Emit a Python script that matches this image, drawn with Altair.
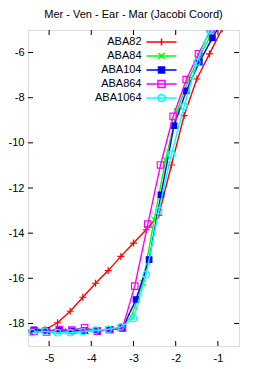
import math
import altair as alt
import pandas as pd

# ---------------- data ----------------
series_names = ["ABA82", "ABA84", "ABA104", "ABA864", "ABA1064"]
series_colors = ["#ff0000", "#00ff00", "#0000ff", "#ff00ff", "#00ffff"]

x_aba82 = [-5.4, -5.1, -4.8, -4.5, -4.2, -3.9, -3.6, -3.3, -3.0, -2.7, -2.4, -2.1, -1.8, -1.5, -1.2, -0.9]
y_aba82 = [-18.40, -18.28, -17.97, -17.46, -16.84, -16.22, -15.66, -15.03, -14.44, -13.85, -13.20, -10.98, -8.79, -7.17, -6.06, -4.95]

x_aba84 = [-5.48, -5.21, -4.94, -4.67, -4.40, -4.13, -3.86, -3.59, -3.32, -3.05, -2.78, -2.51, -2.24, -1.97, -1.70, -1.43, -1.16, -0.89]
y_aba84 = [-18.33, -18.30, -18.36, -18.34, -18.33, -18.35, -18.31, -18.30, -18.20, -17.70, -16.20, -13.40, -10.76, -8.60, -7.20, -6.15, -5.20, -4.30]

x_aba104 = [-5.36, -5.06, -4.76, -4.46, -4.16, -3.86, -3.56, -3.26, -2.94, -2.63, -2.35, -2.04, -1.75, -1.44, -1.13, -0.83]
y_aba104 = [-18.28, -18.32, -18.30, -18.33, -18.31, -18.32, -18.27, -18.22, -16.94, -15.17, -12.30, -9.24, -7.70, -6.42, -5.35, -4.40]

x_aba864 = [-5.36, -5.06, -4.76, -4.46, -4.16, -3.86, -3.56, -3.26, -2.97, -2.66, -2.36, -2.06, -1.75, -1.46, -1.16]
y_aba864 = [-18.35, -18.38, -18.27, -18.30, -18.19, -18.34, -18.28, -18.20, -16.35, -13.60, -10.98, -8.83, -7.20, -6.06, -4.95]

x_aba1064 = [-5.4, -5.1, -4.8, -4.5, -4.2, -3.9, -3.6, -3.3, -3.0, -2.7, -2.4, -2.1, -1.8, -1.5, -1.2]
y_aba1064 = [-18.41, -18.34, -18.41, -18.41, -18.37, -18.30, -18.26, -18.15, -17.78, -15.84, -13.00, -10.50, -8.38, -6.43, -5.00]

x_ticks = [-5, -4, -3, -2, -1]
y_ticks = [-18, -16, -14, -12, -10, -8, -6]

xs_all = [x_aba82, x_aba84, x_aba104, x_aba864, x_aba1064]
ys_all = [y_aba82, y_aba84, y_aba104, y_aba864, y_aba1064]

# marker paths (unit box -1..1, scaled by sqrt(size))
marker_paths = [
    "M-1,0H1M0,-1V1",                      # plus
    "M-1,-1L1,1M-1,1L1,-1",                # x
    "square",                              # filled square
    "square",                              # open square
    "circle",                              # open circle
]
marker_fill = ["transparent", "transparent", "#0000ff", "transparent", "transparent"]
marker_size = [49, 36, 30, 42, 42]

# legend sample paths: a line with the marker drawn on it (unit = 3.5 px)
L = 4.29
def poly_circle(r, n=16):
    pts = ["%.3f,%.3f" % (r * math.cos(2 * math.pi * k / n), r * math.sin(2 * math.pi * k / n)) for k in range(n)]
    return "M" + "L".join(pts) + "Z"

fill_lines = "".join("M-0.86,%.2fH0.86" % v for v in [-0.6, -0.35, -0.1, 0.15, 0.4, 0.65])
legend_paths = [
    "M-%s,0H%sM0,-1V1" % (L, L),
    "M-%s,0H%sM-0.86,-0.86L0.86,0.86M-0.86,0.86L0.86,-0.86" % (L, L),
    "M-%s,0H%sM-0.86,-0.86H0.86V0.86H-0.86Z" % (L, L) + fill_lines,
    "M-%s,0H%sM-1,-1H1V1H-1Z" % (L, L),
    "M-%s,0H%s" % (L, L) + poly_circle(1.0),
]

W, H = 211, 316
FONT = "Liberation Sans"

rows = []
for name, xs, ys in zip(series_names, xs_all, ys_all):
    for xv, yv in zip(xs, ys):
        rows.append({"series": name, "x": xv, "y": yv})
df = pd.DataFrame(rows)

xscale = alt.Scale(domain=[-5.5, -0.5], nice=False, zero=False)
yscale = alt.Scale(domain=[-19, -5], nice=False, zero=False)
xaxis = alt.Axis(values=x_ticks, title=None, grid=False, ticks=False, tickSize=0, domain=False,
                 labelExpr="'' + datum.value",
                 labelFont=FONT, labelFontSize=11, labelColor="black", labelPadding=6)
yaxis = alt.Axis(values=y_ticks, title=None, grid=False, ticks=False, tickSize=0, domain=False,
                 labelExpr="'' + datum.value",
                 labelFont=FONT, labelFontSize=11, labelColor="black", labelPadding=4)

X = alt.X("x:Q", scale=xscale, axis=xaxis)
Y = alt.Y("y:Q", scale=yscale, axis=yaxis)

layers = []
for i, name in enumerate(series_names):
    sub = alt.Chart(df).transform_filter(alt.datum.series == name)
    layers.append(sub.mark_line(color=series_colors[i], strokeWidth=1.4, clip=True).encode(x=X, y=Y))
    layers.append(sub.mark_point(shape=marker_paths[i], color=series_colors[i], fill=marker_fill[i],
                                 size=marker_size[i], strokeWidth=1.2, opacity=1, clip=True)
                  .encode(x=X, y=Y))

# inward ticks
xt_df = pd.DataFrame({"x": x_ticks})
yt_df = pd.DataFrame({"y": y_ticks})
layers.append(alt.Chart(xt_df).mark_rule(color="black", strokeWidth=1)
              .encode(x=X, y=alt.value(H), y2=alt.value(H - 5)))
layers.append(alt.Chart(xt_df).mark_rule(color="black", strokeWidth=1)
              .encode(x=X, y=alt.value(0), y2=alt.value(5)))
layers.append(alt.Chart(yt_df).mark_rule(color="black", strokeWidth=1)
              .encode(y=Y, x=alt.value(0), x2=alt.value(5)))
layers.append(alt.Chart(yt_df).mark_rule(color="black", strokeWidth=1)
              .encode(y=Y, x=alt.value(W - 5), x2=alt.value(W)))

# legend layer (no rows drawn; provides the key)
legend = alt.Legend(orient="none", legendX=128, legendY=6.5, title=None,
                    labelAlign="right", labelOffset={"expr": "-25.5"},
                    rowPadding=1,
                    labelFont=FONT, labelFontSize=11, labelColor="black",
                    symbolSize=49, symbolStrokeWidth=1.5, symbolOpacity=1, padding=0)
leg_layer = alt.Chart(df).transform_filter("false").mark_point(size=49, filled=False, opacity=1, strokeWidth=1.5).encode(
    x=X, y=Y,
    color=alt.Color("series:N", scale=alt.Scale(domain=series_names, range=series_colors), legend=legend),
    shape=alt.Shape("series:N", scale=alt.Scale(domain=series_names, range=legend_paths), legend=legend),
    fill=alt.Fill("series:N", scale=alt.Scale(domain=series_names, range=marker_fill), legend=legend),
)
layers.append(leg_layer)

chart = alt.layer(*layers).properties(
    width=W, height=H,
    autosize=alt.AutoSizeParams(type="none"),
    padding={"left": 20, "top": 22, "right": 19, "bottom": 20},
    title=alt.TitleParams("Mer - Ven - Ear - Mar (Jacobi Coord)", font=FONT, fontSize=11,
                          fontWeight="normal", color="black", offset=10, anchor="middle"),
).configure_view(stroke="black", strokeWidth=1).configure(background="white")

chart.save("out.html", embed_options={"renderer": "svg", "actions": False})
